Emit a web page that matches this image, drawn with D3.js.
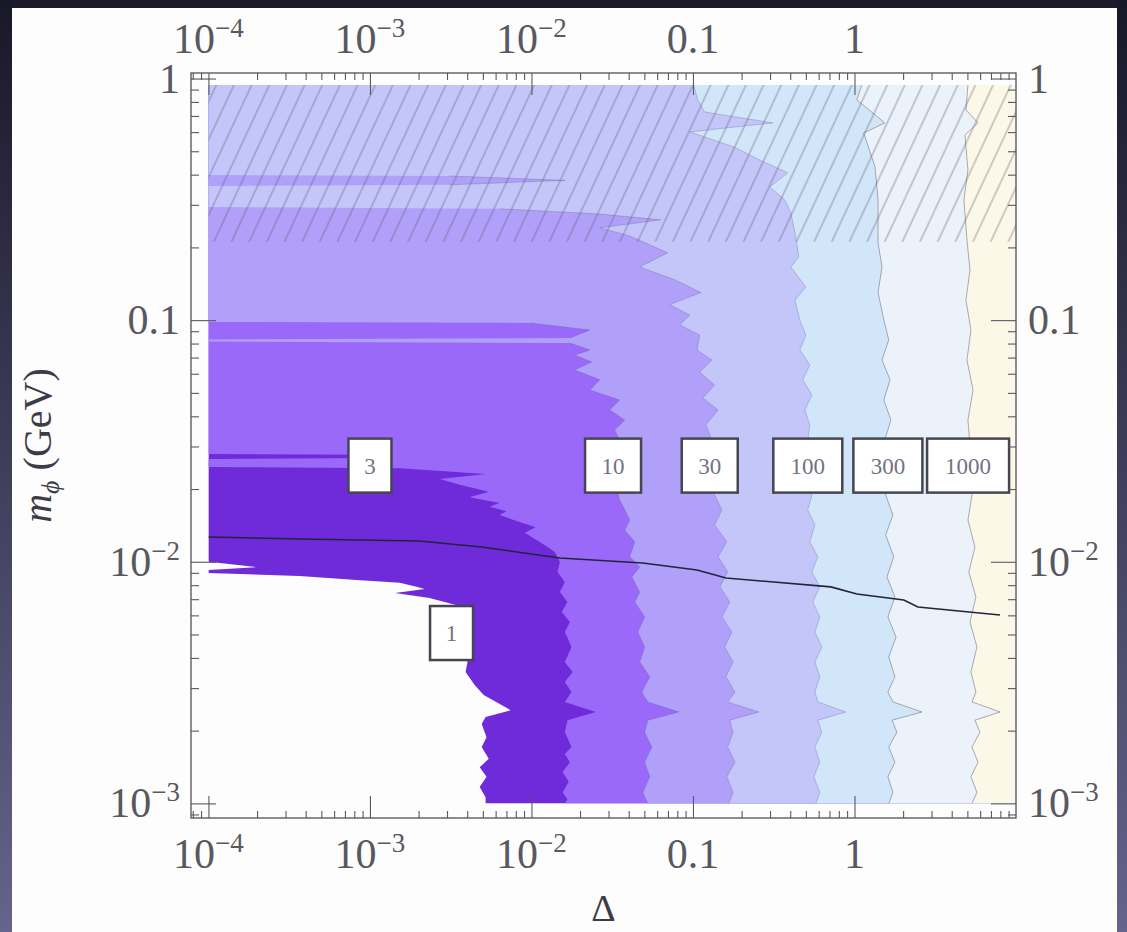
<!DOCTYPE html>
<html>
<head>
<meta charset="utf-8">
<script src="https://cdn.jsdelivr.net/npm/d3@7"></script>
<style>
  body { margin: 0; background: #1b1a2b; }
  svg { display: block; }
</style>
</head>
<body>
<svg id="chart" width="1127" height="932"></svg>
<script>
// contour boundaries: [m_phi (GeV), Delta], top to bottom.
// everything right of a boundary is at or above that level
const level1 = [
  [0.94, 1e-4], [0.0100, 1e-4], [0.0095, 1.98e-4], [0.00925, 1e-4], [0.00899, 1e-4],
  [0.00873, 3.66e-4], [0.00841, 8.26e-4], [0.00818, 1.53e-3], [0.00787, 1.97e-3],
  [0.00772, 2.18e-3], [0.00743, 1.43e-3], [0.00708, 2.34e-3], [0.00682, 2.90e-3],
  [0.00656, 3.59e-3], [0.00620, 4.02e-3], [0.00512, 4.13e-3], [0.00423, 3.91e-3],
  [0.00385, 4.02e-3], [0.00350, 3.91e-3], [0.00309, 4.45e-3], [0.00281, 5.06e-3],
  [0.00243, 7.43e-3], [0.00228, 5.20e-3], [0.00213, 4.92e-3], [0.00188, 5.27e-3],
  [0.00171, 4.92e-3], [0.00153, 5.44e-3], [0.00141, 4.78e-3], [0.00129, 5.27e-3],
  [0.00117, 4.78e-3], [0.00106, 5.20e-3], [0.001, 5.20e-3]
];
const level3 = [
  [0.94, 1e-4], [0.0279, 1e-4], [0.0277, 1.0e-3], [0.0273, 1.32e-3], [0.0269, 1.0e-3],
  [0.0266, 1e-4], [0.0247, 1e-4], [0.0244, 1.53e-3], [0.0231, 5.20e-3], [0.0220, 2.70e-3],
  [0.0208, 3.64e-3], [0.0195, 5.44e-3], [0.0185, 4.13e-3], [0.0175, 6.35e-3],
  [0.0169, 5.51e-3], [0.0162, 7.0e-3], [0.0156, 6.35e-3], [0.0149, 7.76e-3],
  [0.0139, 0.0106], [0.0132, 9.08e-3], [0.0121, 0.0112], [0.0110, 0.0139],
  [0.00998, 0.0150], [0.00907, 0.0145], [0.00825, 0.0161], [0.00750, 0.0150],
  [0.00682, 0.0167], [0.00620, 0.0154], [0.00563, 0.0173], [0.00512, 0.0161],
  [0.00444, 0.0177], [0.00385, 0.0161], [0.00350, 0.0180], [0.00318, 0.0161],
  [0.00289, 0.0177], [0.00263, 0.0161], [0.00239, 0.0250], [0.00221, 0.0167],
  [0.00197, 0.0161], [0.00171, 0.0177], [0.00160, 0.0161], [0.00148, 0.0173],
  [0.00135, 0.0156], [0.00123, 0.0170], [0.00111, 0.0156], [0.00104, 0.0167],
  [0.001, 0.0161]
];
const level10 = [
  [0.94, 1e-4], [0.0983, 1e-4], [0.0974, 9.75e-3], [0.0911, 0.0230], [0.0844, 0.0173],
  [0.0832, 1e-4], [0.0816, 1e-4], [0.0804, 0.0173], [0.0752, 0.0230], [0.0718, 0.0185],
  [0.0671, 0.0236], [0.0622, 0.0185], [0.0566, 0.0265], [0.0514, 0.0230],
  [0.0467, 0.0352], [0.0425, 0.0305], [0.0386, 0.0378], [0.0351, 0.0327],
  [0.0319, 0.0352], [0.0247, 0.0314], [0.0180, 0.0352], [0.0164, 0.0378],
  [0.0149, 0.0406], [0.0135, 0.0378], [0.0121, 0.0436], [0.0105, 0.0406],
  [0.00952, 0.0468], [0.00865, 0.0418], [0.00750, 0.0468], [0.00682, 0.0436],
  [0.00591, 0.0502], [0.00512, 0.0455], [0.00444, 0.0502], [0.00385, 0.0468],
  [0.00334, 0.0540], [0.00289, 0.0482], [0.00263, 0.0525], [0.00239, 0.0817],
  [0.00221, 0.0525], [0.00197, 0.0502], [0.00171, 0.0556], [0.00148, 0.0502],
  [0.00129, 0.0540], [0.00111, 0.0489], [0.001, 0.0525]
];
const level30 = [
  [0.94, 1e-4], [0.399, 1e-4], [0.395, 3.1e-3], [0.379, 0.0161], [0.363, 3.1e-3],
  [0.359, 1e-4], [0.294, 1e-4], [0.289, 6.35e-3], [0.275, 0.0265], [0.260, 0.0631],
  [0.241, 0.0265], [0.223, 0.0406], [0.190, 0.0698], [0.166, 0.0468], [0.147, 0.0771],
  [0.130, 0.112], [0.116, 0.0718], [0.105, 0.0955], [0.0955, 0.0828], [0.0868, 0.110],
  [0.0752, 0.106], [0.0684, 0.131], [0.0610, 0.110], [0.0539, 0.136], [0.0476, 0.115],
  [0.0425, 0.143], [0.0368, 0.120], [0.0319, 0.131], [0.0247, 0.120], [0.0189, 0.136],
  [0.0164, 0.151], [0.0142, 0.136], [0.0121, 0.162], [0.0105, 0.143], [0.00907, 0.164],
  [0.00787, 0.147], [0.00682, 0.169], [0.00591, 0.151], [0.00512, 0.174],
  [0.00444, 0.157], [0.00385, 0.177], [0.00334, 0.160], [0.00289, 0.182],
  [0.00263, 0.164], [0.00239, 0.256], [0.00221, 0.169], [0.00197, 0.177],
  [0.00171, 0.164], [0.00148, 0.182], [0.00129, 0.162], [0.00111, 0.177], [0.001, 0.167]
];
const level100 = [
  [0.94, 0.101], [0.816, 0.107], [0.727, 0.118], [0.655, 0.312], [0.601, 0.0955],
  [0.521, 0.179], [0.460, 0.259], [0.407, 0.386], [0.356, 0.299], [0.314, 0.371],
  [0.278, 0.404], [0.230, 0.428], [0.183, 0.452], [0.166, 0.404], [0.137, 0.500],
  [0.121, 0.428], [0.100, 0.459], [0.0868, 0.500], [0.0752, 0.459], [0.0653, 0.529],
  [0.0566, 0.479], [0.0490, 0.545], [0.0425, 0.493], [0.0368, 0.529], [0.0319, 0.514],
  [0.0247, 0.514], [0.0189, 0.545], [0.0164, 0.514], [0.0142, 0.569], [0.0121, 0.529],
  [0.0105, 0.593], [0.00907, 0.545], [0.00787, 0.610], [0.00682, 0.552],
  [0.00591, 0.610], [0.00512, 0.569], [0.00444, 0.628], [0.00385, 0.569],
  [0.00334, 0.610], [0.00289, 0.569], [0.00263, 0.593], [0.00239, 0.885],
  [0.00221, 0.593], [0.00197, 0.628], [0.00171, 0.569], [0.00148, 0.610],
  [0.00129, 0.560], [0.00111, 0.610], [0.001, 0.577]
];
const level300 = [
  [0.94, 1.11], [0.816, 1.035], [0.655, 1.54], [0.595, 1.14], [0.431, 1.34],
  [0.314, 1.40], [0.209, 1.40], [0.166, 1.48], [0.130, 1.40], [0.100, 1.52],
  [0.0828, 1.63], [0.0684, 1.48], [0.0566, 1.66], [0.0467, 1.52], [0.0386, 1.68],
  [0.0319, 1.54], [0.0247, 1.63], [0.0189, 1.56], [0.0156, 1.73], [0.0129, 1.56],
  [0.0105, 1.75], [0.00865, 1.59], [0.00715, 1.78], [0.00591, 1.61], [0.00488, 1.81],
  [0.00404, 1.63], [0.00334, 1.78], [0.00289, 1.61], [0.00263, 1.73], [0.00239, 2.62],
  [0.00221, 1.71], [0.00197, 1.83], [0.00171, 1.63], [0.00148, 1.78], [0.00129, 1.61],
  [0.00111, 1.73], [0.001, 1.63]
];
const level1000 = [
  [0.94, 5.04], [0.741, 4.90], [0.655, 5.82], [0.584, 4.83], [0.418, 5.04],
  [0.314, 4.76], [0.215, 4.97], [0.161, 5.19], [0.121, 4.90], [0.0911, 5.26],
  [0.0684, 4.97], [0.0514, 5.42], [0.0386, 5.04], [0.0304, 5.19], [0.0247, 5.04],
  [0.0189, 5.34], [0.0149, 5.04], [0.0115, 5.57], [0.00907, 5.11], [0.00715, 5.65],
  [0.00563, 5.19], [0.00444, 5.73], [0.00350, 5.26], [0.00289, 5.65], [0.00263, 5.34],
  [0.00239, 7.96], [0.00221, 5.57], [0.00197, 5.98], [0.00171, 5.34], [0.00148, 5.82],
  [0.00129, 5.26], [0.00111, 5.73], [0.001, 5.34]
];

const levels = [1, 3, 10, 30, 100, 300, 1000];
const levelColors = ["#6f2ad9", "#9b69fa", "#b0a0fa", "#c4c6fa", "#d2e6fa", "#ecf2fa", "#fcf8e8"];
const boundaries = [level1, level3, level10, level30, level100, level300, level1000];

// the solid black curve
const curveDelta = [1e-4, 3.66e-4, 2.03e-3, 4.91e-3, 0.0150, 0.0489, 0.106, 0.160, 0.714, 1.035, 2.02, 2.47, 7.96];
const curveMass = [0.01267, 0.01243, 0.01219, 0.01151, 0.01037, 0.00989, 0.00925, 0.00857, 0.00787, 0.00736, 0.00695, 0.00650, 0.00602];

// contour label boxes (same order as levels)
const labelDelta = [3.2e-3, 1.0e-3, 0.032, 0.127, 0.514, 1.61, 5.05];
const labelMass = [5.07e-3, 0.025, 0.025, 0.025, 0.025, 0.025, 0.025];

const xTickValues = [1e-4, 1e-3, 1e-2, 0.1, 1];
const xTickBase = ["10", "10", "10", "0.1", "1"];
const xTickExp = ["\u22124", "\u22123", "\u22122", "", ""];
const yTickValues = [1e-3, 1e-2, 0.1, 1];
const yTickBase = ["10", "10", "0.1", "1"];
const yTickExp = ["\u22123", "\u22122", "", ""];

const frameDelta = [7.8e-5, 10];
const frameMass = [8.7e-4, 1.054];
const deltaRange = [1e-4, 10];
const massRange = [1e-3, 0.94];
const hatchMass = [0.211, 0.94];

const W = 1127, H = 932;
const serif = "'Liberation Serif', 'DejaVu Serif', serif";
const ink = "#585860";

const svg = d3.select("#chart");
const defs = svg.append("defs");

// slide backdrop
const edgeGrad = defs.append("linearGradient").attr("id", "edge")
  .attr("x1", 0).attr("y1", 0).attr("x2", 0).attr("y2", 1);
edgeGrad.append("stop").attr("offset", "0%").attr("stop-color", "#191828");
edgeGrad.append("stop").attr("offset", "100%").attr("stop-color", "#64648c");

svg.append("rect").attr("width", W).attr("height", H).attr("fill", "#1b1a2b");
svg.append("rect").attr("x", 0).attr("width", 12).attr("height", H).attr("fill", "url(#edge)");
svg.append("rect").attr("x", 1117).attr("width", 10).attr("height", H).attr("fill", "url(#edge)");
svg.append("rect").attr("x", 12).attr("y", 8).attr("width", 1105).attr("height", H - 8).attr("fill", "#fdfdfd");

const x = d3.scaleLog().domain(frameDelta).range([191, 1016]);
const y = d3.scaleLog().domain(frameMass).range([818, 73]);

defs.append("clipPath").attr("id", "data-clip").append("rect")
  .attr("x", x(deltaRange[0]))
  .attr("y", y(massRange[1]))
  .attr("width", x(deltaRange[1]) - x(deltaRange[0]))
  .attr("height", y(massRange[0]) - y(massRange[1]));

const plot = svg.append("g").attr("clip-path", "url(#data-clip)");

const band = d3.area()
  .y(d => y(d[0]))
  .x0(d => x(d[1]))
  .x1(x(deltaRange[1]));

plot.selectAll("path.band")
  .data(boundaries)
  .join("path")
  .attr("class", "band")
  .attr("d", band)
  .attr("fill", (d, i) => levelColors[i]);

// thin contour lines, only where the boundary is inside the plot
const edgeLine = d3.line()
  .defined(d => d[1] > deltaRange[0])
  .x(d => x(d[1]))
  .y(d => y(d[0]));

plot.selectAll("path.edge")
  .data(boundaries.slice(2))
  .join("path")
  .attr("class", "edge")
  .attr("d", edgeLine)
  .attr("fill", "none")
  .attr("stroke", (d, i) => i >= 3 ? "rgba(105,105,120,0.55)" : "rgba(90,90,150,0.3)")
  .attr("stroke-width", 1);

// hatched band above the muon threshold
const hatch = defs.append("pattern").attr("id", "hatch")
  .attr("patternUnits", "userSpaceOnUse")
  .attr("width", 16).attr("height", 16)
  .attr("patternTransform", "rotate(25)");
hatch.append("line")
  .attr("x1", 8).attr("x2", 8).attr("y1", 0).attr("y2", 16)
  .attr("stroke", "#5c5c72").attr("stroke-opacity", 0.55).attr("stroke-width", 1.1);

plot.append("rect")
  .attr("x", x(deltaRange[0]))
  .attr("width", x(deltaRange[1]) - x(deltaRange[0]))
  .attr("y", y(hatchMass[1]))
  .attr("height", y(hatchMass[0]) - y(hatchMass[1]))
  .attr("fill", "url(#hatch)");

plot.append("path")
  .datum(d3.zip(curveDelta, curveMass))
  .attr("d", d3.line().x(d => x(d[0])).y(d => y(d[1])))
  .attr("fill", "none")
  .attr("stroke", "#23233a")
  .attr("stroke-width", 1.6);

// contour labels
const labels = svg.append("g");
levels.forEach((lv, i) => {
  const txt = String(lv);
  const w = 30 + 13 * txt.length;
  const cx = x(labelDelta[i]), cy = y(labelMass[i]);
  labels.append("rect")
    .attr("x", cx - w / 2).attr("y", cy - 27)
    .attr("width", w).attr("height", 54)
    .attr("fill", "#ffffff")
    .attr("stroke", "#464650")
    .attr("stroke-width", 2.5);
  labels.append("text")
    .attr("x", cx).attr("y", cy + 8)
    .attr("text-anchor", "middle")
    .attr("font-family", serif)
    .attr("font-size", 23)
    .attr("fill", "#727284")
    .text(txt);
});

// frame and ticks
svg.append("rect")
  .attr("x", x(frameDelta[0])).attr("y", y(frameMass[1]))
  .attr("width", x(frameDelta[1]) - x(frameDelta[0]))
  .attr("height", y(frameMass[0]) - y(frameMass[1]))
  .attr("fill", "none").attr("stroke", "#505058").attr("stroke-width", 1.3);

const isDecade = v => Math.abs(Math.log10(v) - Math.round(Math.log10(v))) < 1e-6;
const xMinor = x.ticks().filter(v => !isDecade(v));
const yMinor = y.ticks().filter(v => !isDecade(v));

function ticks(axis, tx, ty) {
  const g = svg.append("g").attr("transform", `translate(${tx},${ty})`).call(axis);
  g.select(".domain").remove();
  g.selectAll("text").remove();
  g.selectAll("line").attr("stroke", ink).attr("stroke-width", 1.1);
}

const x0 = x(frameDelta[0]), x1 = x(frameDelta[1]);
const y0 = y(frameMass[0]), y1 = y(frameMass[1]);

ticks(d3.axisBottom(x).tickValues(xTickValues).tickSizeInner(-22).tickSizeOuter(0), 0, y0);
ticks(d3.axisBottom(x).tickValues(xMinor).tickSizeInner(-7).tickSizeOuter(0), 0, y0);
ticks(d3.axisTop(x).tickValues(xTickValues).tickSizeInner(-22).tickSizeOuter(0), 0, y1);
ticks(d3.axisTop(x).tickValues(xMinor).tickSizeInner(-7).tickSizeOuter(0), 0, y1);
ticks(d3.axisLeft(y).tickValues(yTickValues).tickSizeInner(-25).tickSizeOuter(0), x0, 0);
ticks(d3.axisLeft(y).tickValues(yMinor).tickSizeInner(-8).tickSizeOuter(0), x0, 0);
ticks(d3.axisRight(y).tickValues(yTickValues).tickSizeInner(-25).tickSizeOuter(0), x1, 0);
ticks(d3.axisRight(y).tickValues(yMinor).tickSizeInner(-8).tickSizeOuter(0), x1, 0);

function tickLabel(px, py, anchor, base, exp) {
  const t = svg.append("text")
    .attr("x", px).attr("y", py)
    .attr("text-anchor", anchor)
    .attr("font-family", serif)
    .attr("font-size", 42)
    .attr("fill", ink);
  t.append("tspan").text(base);
  if (exp) t.append("tspan").attr("font-size", 27).attr("dy", -16).text(exp);
}

xTickValues.forEach((v, i) => {
  tickLabel(x(v), 53, "middle", xTickBase[i], xTickExp[i]);
  tickLabel(x(v), 868, "middle", xTickBase[i], xTickExp[i]);
});
yTickValues.forEach((v, i) => {
  tickLabel(x0 - 11, y(v) + 14, "end", yTickBase[i], yTickExp[i]);
  tickLabel(x1 + 12, y(v) + 14, "start", yTickBase[i], yTickExp[i]);
});

// axis titles
const yTitle = svg.append("text")
  .attr("transform", `translate(51,${(y0 + y1) / 2}) rotate(-90)`)
  .attr("text-anchor", "middle")
  .attr("font-family", serif)
  .attr("font-size", 40)
  .attr("fill", "#3c3c48");
yTitle.append("tspan").attr("font-style", "italic").text("m");
yTitle.append("tspan").attr("font-style", "italic").attr("font-size", 26).attr("dy", 8).text("\u03d5");
yTitle.append("tspan").attr("dy", -8).text(" (GeV)");

svg.append("text")
  .attr("x", (x0 + x1) / 2).attr("y", 921)
  .attr("text-anchor", "middle")
  .attr("font-family", serif)
  .attr("font-size", 38)
  .attr("fill", "#3c3c48")
  .text("\u0394");
</script>
</body>
</html>
